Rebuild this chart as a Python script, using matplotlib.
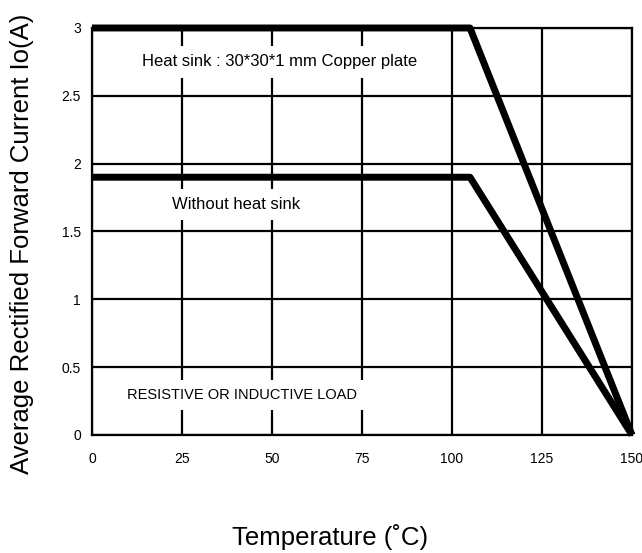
import matplotlib.pyplot as plt

plt.rcParams['font.family'] = ['Liberation Sans', 'DejaVu Sans']

# Derating curves
temp_heatsink = [0, 105, 150]
current_heatsink = [3.0, 3.0, 0.0]
temp_noheatsink = [0, 105, 150]
current_noheatsink = [1.9, 1.9, 0.0]

x_ticks = [0, 25, 50, 75, 100, 125, 150]
y_ticks = [0, 0.5, 1, 1.5, 2, 2.5, 3]
y_tick_labels = ["0", "0.5", "1", "1.5", "2", "2.5", "3"]

fig = plt.figure(figsize=(6.42, 5.53), dpi=100)
ax = fig.add_axes([0.1433, 0.2134, 0.8411, 0.736])

ax.set_xlim(0, 150)
ax.set_ylim(0, 3)
ax.set_xticks(x_ticks)
ax.set_yticks(y_ticks)
ax.set_yticklabels(y_tick_labels)
ax.tick_params(length=0, labelsize=10)
ax.tick_params(axis='x', pad=12)
ax.tick_params(axis='y', pad=8)

# thick black grid
for xv in x_ticks:
    ax.axvline(xv, color="black", lw=1.6, zorder=1)
for yv in y_ticks:
    ax.axhline(yv, color="black", lw=1.6, zorder=1)
for sp in ax.spines.values():
    sp.set_linewidth(1.6)

ax.plot(temp_heatsink, current_heatsink, color="black", lw=5,
        solid_capstyle="butt", zorder=4, clip_on=False)
ax.plot(temp_noheatsink, current_noheatsink, color="black", lw=5,
        solid_capstyle="butt", zorder=4, clip_on=False)

box = dict(facecolor="white", edgecolor="none", pad=6)
ax.text(52, 2.75, "Heat sink : 30*30*1 mm Copper plate", fontsize=12,
        ha="center", va="center", bbox=box, zorder=3)
ax.text(40, 1.70, "Without heat sink", fontsize=12,
        ha="center", va="center", bbox=box, zorder=3)
ax.text(41.7, 0.295, "RESISTIVE OR INDUCTIVE LOAD", fontsize=10.5,
        ha="center", va="center", bbox=box, zorder=3)

fig.text(0.034, 0.56, "Average Rectified Forward Current Io(A)",
         rotation=90, fontsize=18.5, ha="center", va="center")
fig.text(0.514, 0.029, "Temperature (\u02daC)", fontsize=18.5,
         ha="center", va="center")

fig.savefig("out.png", dpi=100, facecolor="white")
